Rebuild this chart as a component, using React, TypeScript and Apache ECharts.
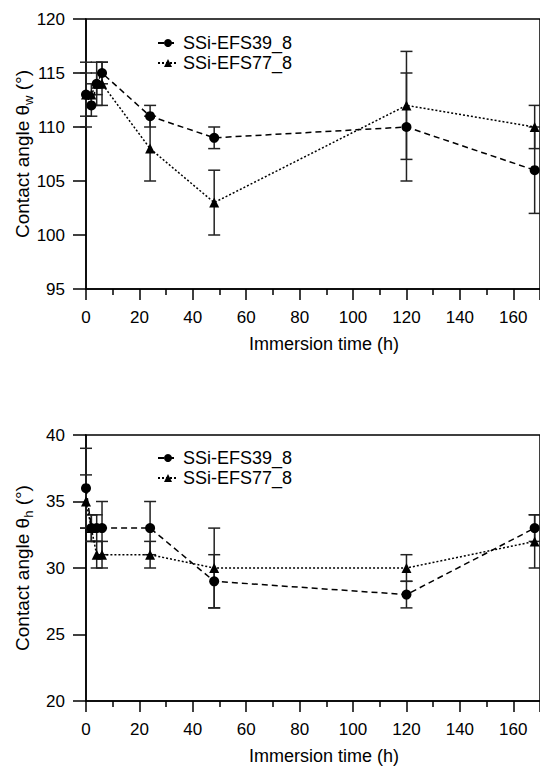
import React, { useEffect, useRef } from "react";
import * as echarts from "echarts";

const hours = [0, 2, 4, 6, 24, 48, 120, 168];
const seriesNames = ["SSi-EFS39_8", "SSi-EFS77_8"];
const xTickMax = 170;
const xTitle = "Immersion time (h)";
const yTitleTop = "{m|Contact angle θ}{s|w}{m| (°)}";
const yTitleBottom = "{m|Contact angle θ}{s|h}{m| (°)}";

// Top panel: water contact angle
const wettingEFS39 = [113, 112, 114, 115, 111, 109, 110, 106];
const wettingEFS39Err = [3, 1, 1, 1, 1, 1, 5, 4];
const wettingEFS77 = [113, 113, 114, 114, 108, 103, 112, 110];
const wettingEFS77Err = [2, 1, 2, 2, 3, 3, 5, 2];

// Bottom panel: hexadecane contact angle
const hexEFS39 = [36, 33, 33, 33, 33, 29, 28, 33];
const hexEFS39Err = [3, 1, 1, 2, 2, 2, 1, 1];
const hexEFS77 = [35, 33, 31, 31, 31, 30, 30, 32];
const hexEFS77Err = [2, 1, 1, 1, 1, 3, 1, 2];

const FONT = "'Liberation Sans', Arial, sans-serif";
const BLACK = "#000";

function pairs(ys: number[]) {
  return hours.map((h, i) => [h, ys[i]]);
}
function triples(ys: number[], es: number[]) {
  return hours.map((h, i) => [h, ys[i], es[i]]);
}

function errorSeries(data: number[][], axisIndex: number, name: string) {
  return {
    type: "custom",
    name: name + "_err",
    xAxisIndex: axisIndex,
    yAxisIndex: axisIndex,
    z: 1,
    silent: true,
    data,
    renderItem: (params: any, api: any) => {
      const x = api.value(0);
      const y = api.value(1);
      const e = api.value(2);
      const top = api.coord([x, y + e]);
      const bot = api.coord([x, y - e]);
      const hw = 6;
      const style = { stroke: "#222", lineWidth: 1.5 };
      return {
        type: "group",
        children: [
          { type: "line", shape: { x1: top[0], y1: top[1], x2: bot[0], y2: bot[1] }, style },
          { type: "line", shape: { x1: top[0] - hw, y1: top[1], x2: top[0] + hw, y2: top[1] }, style },
          { type: "line", shape: { x1: bot[0] - hw, y1: bot[1], x2: bot[0] + hw, y2: bot[1] }, style },
        ],
      };
    },
  };
}

function lineSeries(name: string, data: number[][], axisIndex: number, symbol: string, dash: number[], size: number) {
  return {
    type: "line",
    name,
    xAxisIndex: axisIndex,
    yAxisIndex: axisIndex,
    z: 3,
    data,
    symbol,
    symbolSize: size,
    showAllSymbol: true,
    itemStyle: { color: BLACK },
    lineStyle: { color: BLACK, width: 1.5, type: dash },
  };
}

function xAxis(gridIndex: number) {
  return {
    type: "value",
    gridIndex,
    min: 0,
    max: xTickMax,
    interval: 20,
    name: xTitle,
    nameLocation: "middle",
    nameGap: 46,
    nameTextStyle: { fontFamily: FONT, fontSize: 18, color: BLACK, padding: [0, 0, 0, 22] },
    axisLine: { show: true, lineStyle: { color: BLACK, width: 1.5 } },
    axisTick: { show: true, length: 11, lineStyle: { color: BLACK, width: 1.5 } },
    minorTick: { show: true, splitNumber: 2, length: 6, lineStyle: { color: BLACK, width: 1.5 } },
    axisLabel: { fontFamily: FONT, fontSize: 17, color: BLACK, margin: 20, showMaxLabel: false },
    splitLine: { show: false },
  };
}

function yAxis(gridIndex: number, min: number, max: number) {
  return {
    type: "value",
    gridIndex,
    min,
    max,
    interval: 5,
    axisLine: { show: true, lineStyle: { color: BLACK, width: 1.5 } },
    axisTick: { show: true, length: 13, lineStyle: { color: BLACK, width: 1.5 } },
    axisLabel: { fontFamily: FONT, fontSize: 17, color: BLACK, margin: 21 },
    splitLine: { show: false },
  };
}

function yTitle(text: string, cx: number, cy: number) {
  return {
    type: "text",
    x: cx,
    y: cy,
    rotation: Math.PI / 2,
    style: {
      text,
      align: "center",
      verticalAlign: "middle",
      fontFamily: FONT,
      fontSize: 19,
      fill: BLACK,
      rich: {
        m: { fontFamily: FONT, fontSize: 19, fill: BLACK, lineHeight: 26, verticalAlign: "middle" },
        s: { fontFamily: FONT, fontSize: 13, fill: BLACK, lineHeight: 26, verticalAlign: "bottom" },
      },
    },
  };
}

function legend(top: number) {
  return {
    data: seriesNames,
    orient: "vertical",
    left: 152,
    top,
    itemGap: 2,
    itemWidth: 20,
    itemHeight: 10,
    textStyle: { fontFamily: FONT, fontSize: 18, color: BLACK },
    selectedMode: false,
  };
}

export default function App() {
  const ref = useRef<HTMLDivElement>(null);
  useEffect(() => {
    if (!ref.current) return;
    const chart = echarts.init(ref.current, undefined, { renderer: "svg" });
    const gridBase = {
      left: 86,
      width: 457,
      show: true,
      borderColor: BLACK,
      borderWidth: 1.5,
      backgroundColor: "transparent",
    };
    chart.setOption({
      animation: false,
      backgroundColor: "#fff",
      grid: [
        { ...gridBase, top: 19, height: 270 },
        { ...gridBase, top: 435, height: 266 },
      ],
      xAxis: [xAxis(0), xAxis(1)],
      yAxis: [yAxis(0, 95, 120), yAxis(1, 20, 40)],
      legend: [legend(29), legend(444)],
      graphic: [yTitle(yTitleTop, 22, 154), yTitle(yTitleBottom, 22, 568)],
      series: [
        errorSeries(triples(wettingEFS39, wettingEFS39Err), 0, seriesNames[0]),
        errorSeries(triples(wettingEFS77, wettingEFS77Err), 0, seriesNames[1]),
        lineSeries(seriesNames[0], pairs(wettingEFS39), 0, "circle", [6, 4], 10),
        lineSeries(seriesNames[1], pairs(wettingEFS77), 0, "triangle", [2, 2], 10),
        errorSeries(triples(hexEFS39, hexEFS39Err), 1, seriesNames[0]),
        errorSeries(triples(hexEFS77, hexEFS77Err), 1, seriesNames[1]),
        lineSeries(seriesNames[0], pairs(hexEFS39), 1, "circle", [6, 4], 10),
        lineSeries(seriesNames[1], pairs(hexEFS77), 1, "triangle", [2, 2], 10),
      ],
    });
    return () => chart.dispose();
  }, []);
  return (
    <div
      ref={ref}
      style={{ position: "fixed", left: 0, top: 0, width: 540, height: 767, background: "#fff" }}
    />
  );
}
